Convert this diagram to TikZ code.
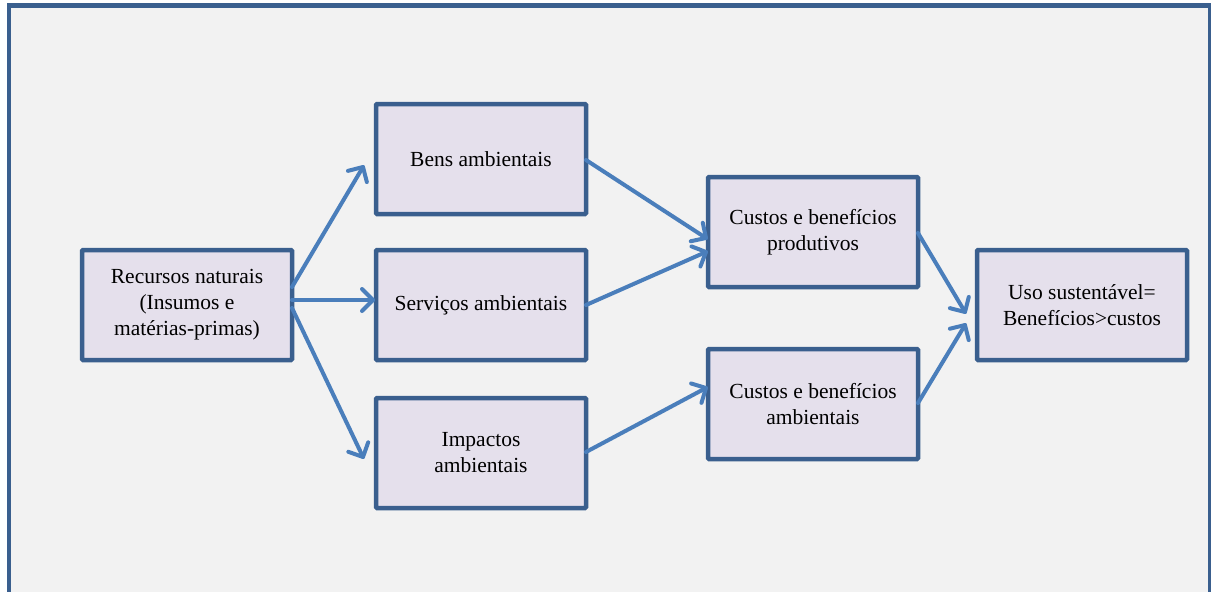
\documentclass[tikz,border=0pt]{standalone}
\usepackage{fontspec}
\setmainfont{Liberation Serif}
\usetikzlibrary{calc,decorations.markings}

\definecolor{pagebg}{HTML}{F2F2F2}
\definecolor{frameblue}{HTML}{3A5F8E}
\definecolor{boxfill}{HTML}{E5E0EC}
\definecolor{arrowblue}{HTML}{4A7EBB}

\tikzset{
  stagebox/.style={draw=frameblue, fill=boxfill, line width=4.5pt,
    minimum width=210pt, minimum height=110pt, outer sep=0pt,
    rounded corners=1pt, align=center, text=black,
    font=\fontsize{21.5}{26}\selectfont},
  % thick line with an open barb head drawn at its end
  flow/.style={draw=arrowblue, line width=4pt, line cap=round,
    postaction={decorate, decoration={markings,
      mark=at position 1 with {\draw[arrowblue, line width=4pt,
        line cap=round, line join=round]
        (-11pt,11pt) -- (0pt,0pt) -- (-11pt,-11pt);}}}},
}

\begin{document}
\begin{tikzpicture}[x=1pt,y=-1pt]
  \useasboundingbox (0,0) rectangle (1211,592);
  \fill[white] (0,0) rectangle (1211,592);
  % outer panel
  \draw[frameblue, fill=pagebg, line width=4.5pt] (9,5.5) rectangle (1210.5,620);

  % stages
  \node[stagebox] (rec)  at (187,305) {Recursos naturais\\(Insumos e\\matérias-primas)};
  \node[stagebox] (bens) at (481,159) {Bens ambientais};
  \node[stagebox] (serv) at (481,305) {Serviços ambientais};
  \node[stagebox] (imp)  at (481,453) {Impactos\\ambientais};
  \node[stagebox] (cp)   at (813,232) {Custos e benefícios\\produtivos};
  \node[stagebox] (ca)   at (813,404) {Custos e benefícios\\ambientais};
  \node[stagebox] (uso)  at (1082,305) {Uso sustentável=\\Benefícios>custos};

  % connectors
  \draw[flow] ($(rec.east)+(0,-18)$) -- ($(bens.west)+(-13,8)$);
  \draw[flow] ($(rec.east)+(0,-5)$)  -- ($(serv.west)+(-3,-5)$);
  \draw[flow] ($(rec.east)+(0,3)$)   -- ($(imp.west)+(-13,4)$);
  \draw[flow] ($(bens.east)+(0,1)$)  -- ($(cp.west)+(-2,6)$);
  \draw[flow] (serv.east)            -- ($(cp.west)+(-2,20)$);
  \draw[flow] ($(imp.east)+(0,-1)$)  -- ($(ca.west)+(-2,-16)$);
  \draw[flow] ($(cp.east)+(0,1)$)    -- ($(uso.west)+(-12,7)$);
  \draw[flow] ($(ca.east)+(0,-1)$)   -- ($(uso.west)+(-12,20)$);
\end{tikzpicture}
\end{document}
